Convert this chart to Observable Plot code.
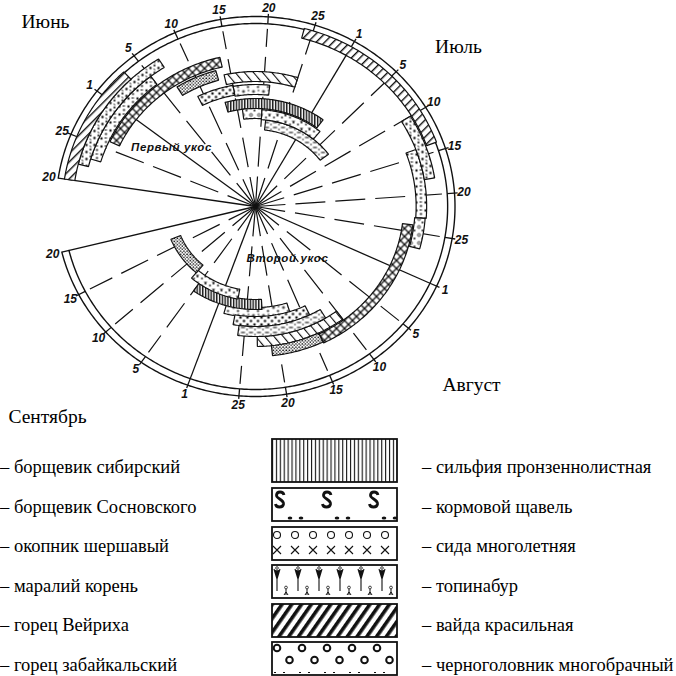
<!DOCTYPE html>
<html><head><meta charset="utf-8">
<script src="https://cdn.jsdelivr.net/npm/d3@7"></script>
<script src="https://cdn.jsdelivr.net/npm/@observablehq/plot@0.6"></script>
<style>
html,body{margin:0;padding:0;background:#fff;}
#wrap{position:relative;width:676px;height:676px;overflow:hidden;background:#fff;}
#chart svg{display:block;}
.lg{position:absolute;font-family:"Liberation Serif","Times New Roman",serif;font-size:18.5px;color:#000;white-space:nowrap;line-height:20px;}
.sw{position:absolute;display:block;}
</style></head>
<body><div id="wrap"><div id="chart"></div></div>
<script>
// ---------- data ----------
const tickDates = ["05-20","05-25","06-01","06-05","06-10","06-15","06-20","06-25","07-01","07-05","07-10","07-15","07-20","07-25","08-01","08-05","08-10","08-15","08-20","08-25","09-01","09-05","09-10","09-15","09-20"];
const tickLabels = ["20","25","1","5","10","15","20","25","1","5","10","15","20","25","1","5","10","15","20","25","1","5","10","15","20"];
const monthNames = ["Июнь","Июль","Август","Сентябрь"];
const cutNames = ["Первый укос","Второй укос"];
const legendLeft = ["борщевик сибирский","борщевик Сосновского","окопник шершавый","маралий корень","горец Вейриха","горец забайкальский"];
const legendRight = ["сильфия пронзеннолистная","кормовой щавель","сида многолетняя","топинабур","вайда красильная","черноголовник многобрачный"];

const bandCrop = ["вайда красильная","маралий корень","борщевик сибирский","сида многолетняя","черноголовник многобрачный","горец Вейриха","окопник шершавый","борщевик Сосновского","сильфия пронзеннолистная","кормовой щавель","топинабур","горец забайкальский",
  "вайда красильная","маралий корень","борщевик сибирский","кормовой щавель","сида многолетняя","черноголовник многобрачный","горец Вейриха","горец забайкальский","окопник шершавый","борщевик Сосновского","сильфия пронзеннолистная","топинабур","черноголовник многобрачный"];
const bandCut = [1,1,1,1,1,1,1,1,1,1,1,1, 2,2,2,2,2,2,2,2,2,2,2,2,2];
const bandStart = ["05-20","05-22","05-23","05-26","06-07","06-14","06-09","06-15","06-13","06-16","06-20","06-21",
  "06-24","07-10","07-14","07-23","07-24","08-14","08-10","08-12","08-14","08-17","08-22","08-27","09-07"];
const bandEnd = ["06-03","06-07","06-05","06-14","06-13","06-25","06-15","06-21","07-02","06-20","07-03","07-08",
  "07-14","07-18","07-23","07-27","08-14","08-21","08-23","08-26","08-27","08-29","09-05","09-07","09-17"];
const bandTrack = [0,1,2,3.1,4.3,4.9,6.1,6.2,7.6,8.6,8.7,9.7, 0,1.1,2.1,2.2,3.3,3.4,4.4,5.4,6.4,7.3,8.1,9,9.7];

// ---------- style mapping ----------
const patternOf = {"борщевик сибирский":"bs","борщевик Сосновского":"bsos","окопник шершавый":"ok","маралий корень":"mk","горец Вейриха":"gv","горец забайкальский":"gz",
  "сильфия пронзеннолистная":"sil","кормовой щавель":"shch","сида многолетняя":"sida","топинабур":"top","вайда красильная":"vai","черноголовник многобрачный":"cher"};
const legendPattern = ["sil","shch","sida","top","vai","cher"];

// ---------- geometry ----------
const T0 = Date.UTC(2000,4,20);
const dayOf = s => { const [m,d] = s.split("-").map(Number); return (Date.UTC(2000,m-1,d) - T0)/864e5; };
const span = dayOf(tickDates[tickDates.length-1]);
const angle = d3.scaleLinear().domain([0, span]).range([278.6, 616.1]);
const pol = (d, r) => { const a = angle(d)*Math.PI/180; return {x: r*Math.sin(a), y: r*Math.cos(a)}; };
const R_OUT = 190, R_IN = 183, TRACK0 = 184, TRACK_W = 10, LABEL_R = 199, SX = 1.05;
// month-start ticks ("1") are drawn at the beginning of the first day
const tickPos = i => dayOf(tickDates[i]) - (tickLabels[i] === "1" ? 1.5 : 0);

const bandPts = [];
bandCrop.forEach((c, i) => {
  const d0 = dayOf(bandStart[i]), d1 = dayOf(bandEnd[i]);
  const ro = TRACK0 - TRACK_W*bandTrack[i], ri = ro - TRACK_W;
  const n = Math.max(2, Math.ceil((d1-d0)/0.25)+1);
  const outer = d3.range(n).map(k => pol(d0 + (d1-d0)*k/(n-1), ro));
  const inner = d3.range(n).map(k => pol(d1 - (d1-d0)*k/(n-1), ri));
  [...outer, ...inner, outer[0]].forEach(p => bandPts.push({band: i, cut: bandCut[i], pat: patternOf[c], x: p.x, y: p.y}));
});

const ringPts = [];
[R_OUT, R_IN].forEach(r => {
  const n = Math.ceil(span/0.25)+1;
  d3.range(n).forEach(k => { const p = pol(span*k/(n-1), r); ringPts.push({k: r, x: p.x, y: p.y}); });
});

const radial = tickDates.map((t, i) => ({d: tickPos(i), label: tickLabels[i],
  kind: (i === 0 || i === tickDates.length-1) ? "edge" : (tickLabels[i] === "1" ? "month" : "dash")}));
const rEnd = {edge: R_OUT, month: R_IN, dash: 178};

const pats = Object.values(patternOf);
const serif = "Liberation Serif, Times New Roman, serif";
const sans = "Liberation Sans, Arial, sans-serif";
const place = (txt, dx, dy, o) => Plot.text([txt], {frameAnchor: "top-left", dx, dy, text: d => d, textAnchor: "middle", lineAnchor: "middle", fill: "#000", ...o});

const marks = [
  Plot.link(radial.filter(d => d.kind === "dash"), {
    x1: d => pol(d.d, 0).x, y1: d => pol(d.d, 0).y, x2: d => pol(d.d, rEnd.dash).x, y2: d => pol(d.d, rEnd.dash).y,
    stroke: "#111", strokeWidth: 1.2, strokeDasharray: "30,10"}),
  Plot.link(radial.filter(d => d.kind !== "dash"), {
    x1: d => pol(d.d, 0).x, y1: d => pol(d.d, 0).y, x2: d => pol(d.d, rEnd[d.kind]).x, y2: d => pol(d.d, rEnd[d.kind]).y,
    stroke: "#111", strokeWidth: 1.3}),
  Plot.line(ringPts, {x: "x", y: "y", z: "k", stroke: "#111", strokeWidth: 1.4}),
  Plot.link(radial.filter(d => d.kind !== "edge"), {
    x1: d => pol(d.d, R_IN).x, y1: d => pol(d.d, R_IN).y, x2: d => pol(d.d, R_OUT+3).x, y2: d => pol(d.d, R_OUT+3).y,
    stroke: "#111", strokeWidth: 1.3}),
  Plot.line(bandPts, {x: "x", y: "y", z: "band", fill: "white", stroke: "none"}),
  ...pats.map(id => Plot.line(bandPts.filter(p => p.pat === id), {x: "x", y: "y", z: "band",
     fill: `url(#cp-${id})`, stroke: "#111", strokeWidth: 1.2, strokeLinejoin: "miter"})),
  Plot.text(radial, {x: d => pol(d.d, LABEL_R).x, y: d => pol(d.d, LABEL_R).y, text: "label",
     fontFamily: sans, fontStyle: "italic", fontWeight: "bold", fontSize: 12, fill: "#111"}),
  place(monthNames[0], 45, 21, {fontFamily: serif, fontSize: 19.5}),
  place(monthNames[1], 458, 46, {fontFamily: serif, fontSize: 19.5}),
  place(monthNames[2], 471, 384, {fontFamily: serif, fontSize: 19.5}),
  place(monthNames[3], 47, 416, {fontFamily: serif, fontSize: 19.5}),
  place(cutNames[0], 171, 147, {fontFamily: sans, fontStyle: "italic", fontWeight: "bold", fontSize: 11.5, fill: "#111"}),
  place(cutNames[1], 287, 258, {fontFamily: sans, fontStyle: "italic", fontWeight: "bold", fontSize: 11.5, fill: "#111"})
];

const W = 676, H = 436, CX = 255, CY = 206;
const svg = Plot.plot({
  width: W, height: H, margin: 0,
  x: {domain: [-CX/SX, (W-CX)/SX], axis: null},
  y: {domain: [-(H-CY), CY], axis: null},
  style: {background: "#fff", overflow: "visible"},
  marks
});

// ---------- patterns ----------
const defs = d3.select(svg).insert("defs", ":first-child");
function pat(id, w, h, draw, tr) {
  const p = defs.append("pattern").attr("id", id).attr("patternUnits", "userSpaceOnUse").attr("width", w).attr("height", h);
  if (tr) p.attr("patternTransform", tr);
  p.append("rect").attr("width", w).attr("height", h).attr("fill", "#fff");
  draw(p);
}
const dot = (p, x, y, r) => p.append("circle").attr("cx", x).attr("cy", y).attr("r", r).attr("fill", "#111");
const ln = (p, d, sw) => p.append("path").attr("d", d).attr("stroke", "#111").attr("stroke-width", sw).attr("fill", "none");
// chart patterns
pat("cp-vai", 6, 6, p => p.append("rect").attr("width", 1.4).attr("height", 6).attr("fill", "#111"), "rotate(45)");
pat("cp-gv", 7, 7, p => p.append("rect").attr("width", 1.1).attr("height", 7).attr("fill", "#111"), "rotate(-40)");
pat("cp-sida", 8, 8, p => ln(p, "M0,0L8,8M8,0L0,8", 1.3));
pat("cp-sil", 2.8, 4, p => p.append("rect").attr("width", 1.4).attr("height", 4).attr("fill", "#111"));
pat("cp-cher", 3.2, 3.2, p => { dot(p, 1, 1, 0.85); dot(p, 2.6, 2.4, 0.7); });
pat("cp-bs", 9, 8, p => { dot(p, 2, 2, 1.2); dot(p, 6.5, 5.5, 1.1); ln(p, "M5,1.5L7.5,1.5", 1); });
pat("cp-bsos", 10, 8, p => { ln(p, "M1.5,3H4.5M3,1.5V4.5", 1); dot(p, 7.5, 6.5, 1.1); dot(p, 8, 2, 0.8); });
pat("cp-ok", 7, 7, p => { dot(p, 2, 2, 1.3); dot(p, 5.5, 5.5, 1.2); });
pat("cp-mk", 8, 7, p => { dot(p, 2, 2, 1.1); dot(p, 6, 4.5, 1.2); ln(p, "M1,5.5L2.8,6.5", 1); });
pat("cp-gz", 8, 5, p => { ln(p, "M0.5,2H4.5", 1.1); dot(p, 6.5, 4, 0.8); });
pat("cp-shch", 8, 8, p => { p.append("circle").attr("cx", 2.5).attr("cy", 2.5).attr("r", 1.4).attr("fill", "none").attr("stroke", "#111").attr("stroke-width", 0.9); dot(p, 6, 6, 1); });
pat("cp-top", 8, 7, p => { ln(p, "M4,1L5,4L6,1", 0.9); dot(p, 1.5, 5, 0.9); });
// legend patterns
pat("lp-sil", 3.9, 60, p => p.append("rect").attr("x", 1).attr("width", 1.1).attr("height", 60).attr("fill", "#111"));
pat("lp-shch", 47, 33, p => {
  ln(p, "M13,8 C12,4 6,4 5.5,8 C5,12 13,12 12.5,17 C12,21 5,21 4.5,17", 2.8);
  p.append("ellipse").attr("cx", 19).attr("cy", 31).attr("rx", 2.3).attr("ry", 1.6).attr("fill", "#111");
  p.append("ellipse").attr("cx", 30).attr("cy", 31).attr("rx", 2.3).attr("ry", 1.6).attr("fill", "#111");
});
pat("lp-sida", 18, 33, p => {
  p.append("circle").attr("cx", 6).attr("cy", 9).attr("r", 3.5).attr("fill", "none").attr("stroke", "#111").attr("stroke-width", 1.1);
  ln(p, "M2,20L10,28M10,20L2,28", 1.1);
});
pat("lp-top", 21, 33, p => {
  ln(p, "M6,27V6M3,5L6,15L9,5M4.5,6L6,11L7.5,6", 1.1);
  p.append("circle").attr("cx", 6).attr("cy", 4).attr("r", 1.3).attr("fill", "none").attr("stroke", "#111").attr("stroke-width", 0.8);
  ln(p, "M15,31V25M13,31L15,28L17,31", 1);
  p.append("circle").attr("cx", 15).attr("cy", 23.5).attr("r", 1.4).attr("fill", "none").attr("stroke", "#111").attr("stroke-width", 0.8);
});
pat("lp-vai", 8, 8, p => p.append("rect").attr("width", 3.6).attr("height", 8).attr("fill", "#111"), "rotate(35)");
pat("lp-cher", 25, 33, p => {
  [[6,7],[18.5,19]].forEach(([x,y]) => p.append("circle").attr("cx", x).attr("cy", y).attr("r", 3.3).attr("fill", "none").attr("stroke", "#111").attr("stroke-width", 2));
  ln(p, "M3,31.5H5M12,31.5H14", 1.2);
});

// letter spacing for cut labels
d3.select(svg).selectAll("text").filter(function(){ return cutNames.includes(this.textContent); }).style("letter-spacing", "0.6px");

document.getElementById("chart").appendChild(svg);

// ---------- legend ----------
const wrap = document.getElementById("wrap");
legendLeft.forEach((name, i) => {
  const yc = 467 + 39.6*i;
  const div = document.createElement("div");
  div.className = "lg"; div.style.left = "0px"; div.style.top = (yc - 10) + "px";
  div.textContent = "– " + name; wrap.appendChild(div);
});
legendRight.forEach((name, i) => {
  const yc = 467 + 39.6*i;
  const top = i === 0 ? 438 : 487 + 38.6*(i-1);
  const h = i === 0 ? 43 : 33;
  const s = document.createElementNS("http://www.w3.org/2000/svg", "svg");
  s.setAttribute("width", 128); s.setAttribute("height", h + 2); s.setAttribute("class", "sw");
  s.style.left = "271px"; s.style.top = top + "px";
  const r = document.createElementNS("http://www.w3.org/2000/svg", "rect");
  r.setAttribute("x", 1); r.setAttribute("y", 1); r.setAttribute("width", 125); r.setAttribute("height", h);
  r.setAttribute("fill", `url(#lp-${legendPattern[i]})`); r.setAttribute("stroke", "#111"); r.setAttribute("stroke-width", 1.8);
  s.appendChild(r); wrap.appendChild(s);
  const div = document.createElement("div");
  div.className = "lg"; div.style.left = "422px"; div.style.top = (yc - 10) + "px";
  div.textContent = "– " + name; wrap.appendChild(div);
});
</script></body></html>
